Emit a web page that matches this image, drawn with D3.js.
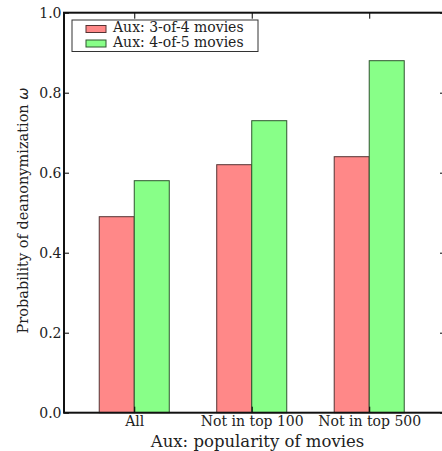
<!DOCTYPE html>
<html><head><meta charset="utf-8">
<script src="https://cdn.jsdelivr.net/npm/d3@7"></script>
<style>
html,body{margin:0;padding:0;background:#fff;}
svg{display:block;}
svg text{font-family:"DejaVu Serif",serif;}
</style></head>
<body>
<svg id="c" width="442" height="451"></svg>
<script>
const categories = ["All", "Not in top 100", "Not in top 500"];
const seriesNames = ["Aux: 3-of-4 movies", "Aux: 4-of-5 movies"];
const series34 = [0.49, 0.62, 0.64];
const series45 = [0.58, 0.73, 0.88];
const yTicks = [0.0, 0.2, 0.4, 0.6, 0.8, 1.0];
const colors = ["#ff8888", "#88ff88"];
const edges = ["#553333", "#2f552f"];

(function () {
const svg = d3.select("#c");
const pL = 64, pR = 445, pT = 12.7, pB = 412.7;
const FF = "'DejaVu Serif', serif";

const x = d3.scaleLinear().domain([-0.598, 2.645]).range([pL, pR]);
const y = d3.scaleLinear().domain([0, 1]).range([pB, pT]);
const bw = 0.298;

const data = [series34, series45];
data.forEach((vals, s) => {
  svg.append("g").selectAll("rect").data(vals).join("rect")
    .attr("x", (d, i) => x(i + (s - 1) * bw))
    .attr("width", x(bw) - x(0))
    .attr("y", d => y(d))
    .attr("height", d => y(0) - y(d))
    .attr("fill", colors[s])
    .attr("stroke", edges[s])
    .attr("stroke-width", 1);
});

const yAxis = d3.axisRight(y).tickValues(yTicks).tickFormat(d3.format(".1f")).tickSize(5).tickPadding(0);
const gy = svg.append("g").attr("transform", `translate(${pL},0)`).call(yAxis);
gy.attr("font-family", null).attr("font-size", null);
gy.select(".domain").remove();
gy.selectAll(".tick line").attr("stroke", "#000");
gy.selectAll(".tick text").attr("x", -2.5).attr("text-anchor", "end").attr("dy", "0.36em")
  .style("font-family", FF).style("font-size", "14px").attr("fill", "#222");

const gyr = svg.append("g").attr("transform", `translate(${pR},0)`).call(d3.axisLeft(y).tickValues(yTicks).tickSize(5).tickFormat(""));
gyr.select(".domain").remove();

const xAxis = d3.axisBottom(x).tickValues([0, 1, 2]).tickFormat((d) => categories[d]).tickSize(0).tickPadding(0);
const gx = svg.append("g").attr("transform", `translate(0,${pB})`).call(xAxis);
gx.attr("font-family", null).attr("font-size", null);
gx.select(".domain").remove();
gx.selectAll(".tick text").attr("dy", null).attr("y", 13.5)
  .style("font-family", FF).style("font-size", "14px").attr("fill", "#222");

svg.append("g").attr("transform", `translate(0,${pB})`)
  .call(d3.axisTop(x).tickValues([0, 1, 2]).tickSize(6).tickFormat(""))
  .select(".domain").remove();
svg.append("g").attr("transform", `translate(0,${pT})`)
  .call(d3.axisBottom(x).tickValues([0, 1, 2]).tickSize(6).tickFormat(""))
  .select(".domain").remove();

svg.append("rect").attr("x", pL).attr("y", pT).attr("width", pR - pL).attr("height", pB - pT)
  .attr("fill", "none").attr("stroke", "#111").attr("stroke-width", 2);

svg.append("text").attr("x", 257.5).attr("y", 447).attr("text-anchor", "middle")
  .style("font-family", FF).style("font-size", "16.5px").attr("fill", "#222").text("Aux: popularity of movies");
const yl = svg.append("text").attr("transform", `translate(28,210.5) rotate(-90)`)
  .attr("text-anchor", "middle").style("font-family", FF).style("font-size", "14.5px").attr("fill", "#222");
yl.append("tspan").text("Probability of deanonymization ");
yl.append("tspan").style("font-style", "italic").style("font-family", "'DejaVu Sans', sans-serif").text("ω");

const lg = svg.append("g");
lg.append("rect").attr("x", 72).attr("y", 20).attr("width", 186).attr("height", 31.5)
  .attr("fill", "#fff").attr("stroke", "#333").attr("stroke-width", 1);
seriesNames.forEach((n, i) => {
  lg.append("rect").attr("x", 86).attr("y", 25.5 + i * 14.5).attr("width", 20).attr("height", 7)
    .attr("fill", colors[i]).attr("stroke", edges[i]).attr("stroke-width", 1);
  lg.append("text").attr("x", 113).attr("y", 31.7 + i * 15).style("font-family", FF).style("font-size", "14px")
    .attr("fill", "#222").text(n);
});
})();
</script>
</body></html>
